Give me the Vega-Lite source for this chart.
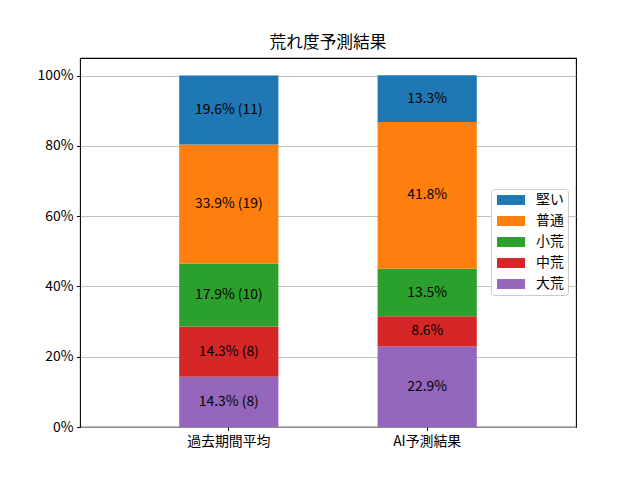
{
  "$schema": "https://vega.github.io/schema/vega-lite/v6.json",
  "width": 496,
  "height": 369,
  "autosize": {"type": "none"},
  "padding": {"left": 80, "top": 58, "right": 64, "bottom": 53},
  "title": {"text": "荒れ度予測結果", "fontSize": 16.7, "fontWeight": "normal", "font": "Noto Sans CJK JP", "color": "#000", "anchor": "middle", "frame": "group", "offset": 6},
  "data": {"values": [
    {"cat": "過去期間平均", "kind": "大荒", "value": 14.3, "label": "14.3% (8)", "ord": 1},
    {"cat": "過去期間平均", "kind": "中荒", "value": 14.3, "label": "14.3% (8)", "ord": 2},
    {"cat": "過去期間平均", "kind": "小荒", "value": 17.9, "label": "17.9% (10)", "ord": 3},
    {"cat": "過去期間平均", "kind": "普通", "value": 33.9, "label": "33.9% (19)", "ord": 4},
    {"cat": "過去期間平均", "kind": "堅い", "value": 19.6, "label": "19.6% (11)", "ord": 5},
    {"cat": "AI予測結果", "kind": "大荒", "value": 22.9, "label": "22.9%", "ord": 1},
    {"cat": "AI予測結果", "kind": "中荒", "value": 8.6, "label": "8.6%", "ord": 2},
    {"cat": "AI予測結果", "kind": "小荒", "value": 13.5, "label": "13.5%", "ord": 3},
    {"cat": "AI予測結果", "kind": "普通", "value": 41.8, "label": "41.8%", "ord": 4},
    {"cat": "AI予測結果", "kind": "堅い", "value": 13.3, "label": "13.3%", "ord": 5}
  ]},
  "transform": [
    {"stack": "value", "groupby": ["cat"], "sort": [{"field": "ord", "order": "ascending"}], "as": ["v0", "v1"]},
    {"calculate": "(datum.v0 + datum.v1) / 2", "as": "vmid"}
  ],
  "encoding": {
    "x": {"field": "cat", "type": "nominal", "sort": ["過去期間平均", "AI予測結果"],
      "scale": {"paddingInner": 0.5, "paddingOuter": 0.5},
      "axis": {"title": null, "labelAngle": 0, "domain": false, "ticks": true, "tickColor": "#000", "tickSize": 3.5, "labelPadding": 3.5, "labelFontSize": 13.9, "labelColor": "#000", "labelFont": "Noto Sans CJK JP", "grid": false}}
  },
  "layer": [
    {"mark": {"type": "bar"},
      "encoding": {
        "y": {"field": "v1", "type": "quantitative",
          "scale": {"domain": [0, 105], "nice": false, "zero": true},
          "axis": {"title": null, "values": [0, 20, 40, 60, 80, 100], "labelExpr": "datum.value + '%'", "domain": false, "tickColor": "#000", "tickSize": 3.5, "labelPadding": 3.5, "labelFontSize": 13.9, "labelColor": "#000", "labelFont": "Noto Sans CJK JP", "grid": true, "gridColor": "#b0b0b0", "gridWidth": 0.8}},
        "y2": {"field": "v0"},
        "color": {"field": "kind", "type": "nominal",
          "scale": {"domain": ["堅い", "普通", "小荒", "中荒", "大荒"], "range": ["#1f77b4", "#ff7f0e", "#2ca02c", "#d62728", "#9467bd"]},
          "legend": {"title": null, "orient": "none", "legendX": 411, "legendY": 131,
            "symbolType": "M-2,-0.71H2V0.71H-2Z", "symbolSize": 196, "symbolStrokeWidth": 0, "symbolOffset": 9,
            "labelFontSize": 13.9, "labelFont": "Noto Sans CJK JP", "labelColor": "#000", "labelOffset": 18,
            "rowPadding": 7, "padding": 4, "strokeColor": "#cccccc", "fillColor": "#ffffff", "cornerRadius": 3}}
      }},
    {"mark": {"type": "text", "fontSize": 13.9, "font": "Noto Sans CJK JP", "color": "#000", "baseline": "middle", "align": "center"},
      "encoding": {
        "y": {"field": "vmid", "type": "quantitative", "scale": {"domain": [0, 105], "nice": false, "zero": true}},
        "text": {"field": "label"}}}
  ],
  "config": {"view": {"stroke": "#000", "strokeWidth": 1.1}, "background": "white"}
}
